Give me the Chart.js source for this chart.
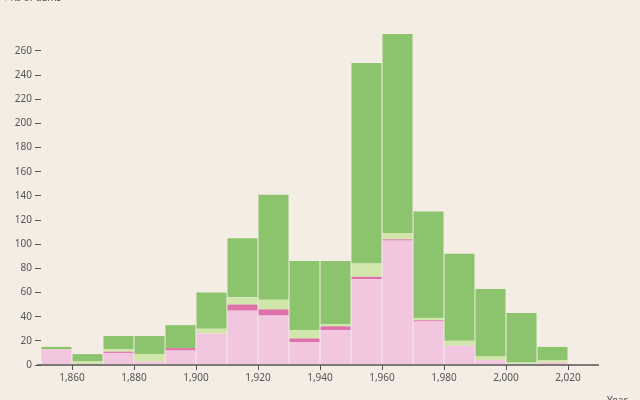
<!DOCTYPE html>
<html>
<head>
<meta charset="utf-8">
<script src="https://cdn.jsdelivr.net/npm/chart.js@4"></script>
<style>
  html, body { margin: 0; padding: 0; background: #f4ede4; }
  #wrap { width: 640px; height: 400px; }
</style>
</head>
<body>
<div id="wrap"><canvas id="chart" width="640" height="400"></canvas></div>
<script>
// 分箱（每10年一个区间，取区间起点）
const binStarts = [1850, 1860, 1870, 1880, 1890, 1900, 1910, 1920, 1930, 1940, 1950, 1960, 1970, 1980, 1990, 2000, 2010, 2020];

// 各层数值（自下而上堆叠）
const pinkValues       = [13, 1, 10, 3, 12, 26, 45, 41, 19, 29, 71, 103, 36, 16, 4, 1, 2, 0];
const darkPinkValues   = [0, 0, 1, 0, 2, 0, 5, 5, 3, 3, 2, 1, 1, 0, 0, 0, 0, 0];
const lightGreenValues = [0, 2, 2, 6, 0, 4, 6, 8, 7, 2, 11, 5, 2, 4, 3, 1, 2, 0];
const greenValues      = [2, 6, 11, 15, 19, 30, 49, 87, 57, 52, 166, 165, 88, 72, 56, 41, 11, 0];

// 坐标轴刻度
const xTicks = [1860, 1880, 1900, 1920, 1940, 1960, 1980, 2000, 2020];
const yTicks = [0, 20, 40, 60, 80, 100, 120, 140, 160, 180, 200, 220, 240, 260];

const axisColor = '#555';
const fontSpec = { family: '"Noto Sans", sans-serif', size: 10 };

function toPoints(values) {
  return values.map((v, i) => ({ x: binStarts[i] + 5, y: v }));
}

function makeDataset(label, values, color) {
  return {
    label: label,
    data: toPoints(values),
    backgroundColor: color,
    borderWidth: 0,
    barPercentage: 0.968,
    categoryPercentage: 1
  };
}

// 自定义文字与基线
const decorPlugin = {
  id: 'decor',
  afterDraw(chart) {
    const ctx = chart.ctx;
    const area = chart.chartArea;
    const yScale = chart.scales.y;
    const y0 = yScale.getPixelForValue(0);
    ctx.save();
    ctx.strokeStyle = axisColor;
    ctx.lineWidth = 1.5;
    ctx.beginPath();
    ctx.moveTo(37, y0);
    ctx.lineTo(area.right, y0);
    ctx.stroke();

    ctx.fillStyle = axisColor;
    ctx.font = '10px "Noto Sans", sans-serif';
    ctx.textBaseline = 'bottom';
    ctx.textAlign = 'left';
    ctx.fillText('↑ № of dams', 3, 3);
    ctx.textBaseline = 'top';
    ctx.fillText('Year →', 607, 396);
    ctx.restore();
  }
};

new Chart(document.getElementById('chart'), {
  type: 'bar',
  data: {
    datasets: [
      makeDataset('a', pinkValues, '#f1c6de'),
      makeDataset('b', darkPinkValues, '#de71aa'),
      makeDataset('c', lightGreenValues, '#d0e6ab'),
      makeDataset('d', greenValues, '#8cc46e')
    ]
  },
  options: {
    responsive: false,
    animation: false,
    layout: { padding: { top: 34, right: 41, left: 0, bottom: 0 } },
    plugins: {
      legend: { display: false },
      tooltip: { enabled: false }
    },
    scales: {
      x: {
        type: 'linear',
        stacked: true,
        offset: false,
        min: 1850,
        max: 2030,
        afterBuildTicks: s => { s.ticks = xTicks.map(v => ({ value: v })); },
        afterFit: s => { s.height = 35; },
        grid: { offset: false, drawOnChartArea: false, drawTicks: true, tickLength: 5, tickColor: axisColor, lineWidth: 1 },
        border: { display: false },
        ticks: {
          color: axisColor,
          font: fontSpec,
          padding: 2,
          maxRotation: 0,
          callback: v => v.toLocaleString('en-US')
        }
      },
      y: {
        stacked: true,
        min: 0,
        max: 274,
        afterBuildTicks: s => { s.ticks = yTicks.map(v => ({ value: v })); },
        afterFit: s => { s.width = 41; },
        grid: { drawOnChartArea: false, drawTicks: true, tickLength: 6, tickColor: axisColor, lineWidth: 1 },
        border: { display: false },
        ticks: {
          color: axisColor,
          font: fontSpec,
          padding: 3
        }
      }
    }
  },
  plugins: [decorPlugin]
});
</script>
</body>
</html>
